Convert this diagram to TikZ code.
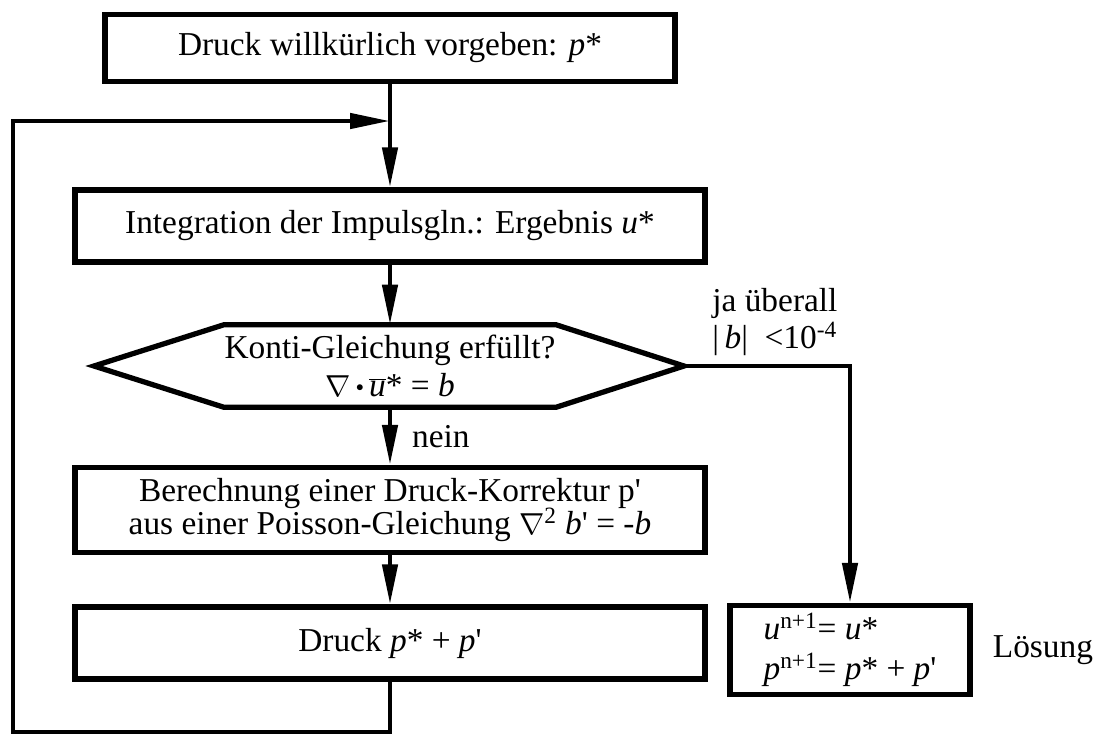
\documentclass[tikz,border=0pt]{standalone}
\usepackage{fontspec}
\setmainfont{Liberation Serif}
\usepackage{tikz}
\usetikzlibrary{arrows.meta,positioning}

\begin{document}
\begin{tikzpicture}[x=0.02cm,y=-0.02cm,font=\fontsize{19}{21}\selectfont,
  arr/.style={-{Triangle[length=0.8cm,width=0.3cm]},line width=2.6pt},
  box/.style={draw,line width=3pt,minimum width=12.6cm,minimum height=1.44cm,align=center,inner sep=2pt}]

  \useasboundingbox (0,0) rectangle (1106,735);

  %% Kaesten
  \node[box,minimum width=11.4cm,minimum height=1.34cm] (start) at (390,48)
    {Druck willkürlich vorgeben: \textit{p}*};
  \node[box] (impuls) at (390,226)
    {Integration der Impulsgln.: Ergebnis \textit{u}*};
  \node[align=center,minimum width=6.36cm,minimum height=1.64cm,inner sep=0pt] (konti) at (390,366)
    {Konti-Gleichung erfüllt?\\[1pt] $\nabla$\,\raisebox{0.35ex}{\scalebox{0.5}{$\bullet$}}\,$\overline{\textit{u}}$* = \textit{b}};
  \node[box,minimum height=1.7cm] (korr) at (390,510)
    {Berechnung einer Druck-Korrektur p\textquotesingle\\[-2pt]
     aus einer Poisson-Gleichung $\nabla$\textsuperscript{2} \textit{b}\textquotesingle\ = -\textit{b}};
  \node[box] (druck) at (390,643) {Druck \textit{p}* + \textit{p}\textquotesingle};
  \node[box,minimum width=4.8cm,minimum height=1.78cm,align=left] (loesung) at (850,650)
    {\textit{u}\textsuperscript{n+1}= \textit{u}*\\[2pt] \textit{p}\textsuperscript{n+1}= \textit{p}* + \textit{p}\textquotesingle};
  \node[right=8pt of loesung] (loesungtxt) {Lösung};

  % Sechseck
  \coordinate (kl) at (94,366);
  \coordinate (kr) at (684,366);
  \draw[line width=3pt] (konti.north west) -- (konti.north east) -- (kr)
    -- (konti.south east) -- (konti.south west) -- (kl) -- cycle;

  % Pfeile
  \draw[arr] (start.south) -- (impuls.north);
  \draw[arr] (impuls.south) -- (konti.north);
  \draw[arr] (konti.south) -- node[midway,right=8pt] (nein) {nein} (korr.north);
  \draw[arr] (korr.south) -- (druck.north);
  \draw[arr] (kr) -| (loesung.north);
  \node[align=left,anchor=west,inner sep=0pt] (ja) at (712,322)
    {ja überall\\ |\,\textit{b}|\ \ <10\textsuperscript{-4}};

  % Rueckfuehrung
  \coordinate (lb) at (13,732);
  \coordinate (lt) at (13,121);
  \draw[arr] (druck.south) |- (lb) -- (lt) -- (lt -| impuls.north);

\end{tikzpicture}
\end{document}
